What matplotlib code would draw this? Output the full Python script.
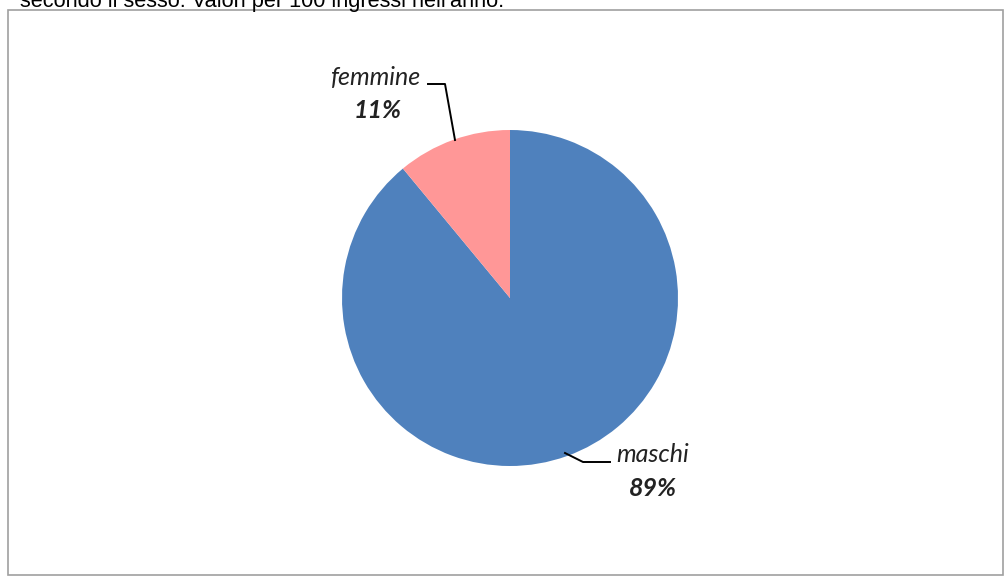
import matplotlib.pyplot as plt
from matplotlib.patches import Rectangle

# Data
labels = ['maschi', 'femmine']
values = [89, 11]
colors = ['#4F81BD', '#FF9797']
title = "secondo il sesso. Valori per 100 ingressi nell'anno."

W, H = 1005, 576
fig = plt.figure(figsize=(W / 100, H / 100), dpi=100)
ax = fig.add_axes([0, 0, 1, 1])

# pie
cx, cy, r = 510, H - 298, 168
ax.pie(values, colors=colors, startangle=90, counterclock=False,
       center=(cx, cy), radius=r, frame=True)
ax.set_xlim(0, W)
ax.set_ylim(0, H)
ax.set_aspect('equal')
ax.axis('off')

# chart frame
ax.add_patch(Rectangle((8, 1), 995, H - 11, fill=False, edgecolor='#a0a0a0', lw=1.2))

# cut-off title at the top
fig.text(20 / W, 1 - 7 / H, title, fontsize=15.7, family='Liberation Sans',
         va='baseline', ha='left', color='black')

font = ['Lato', 'DejaVu Sans']
pct = [f'{v}%' for v in values]

# femmine label + leader
ax.plot([428, 445, 455], [H - 84, H - 84, H - 140], color='black', lw=1.4)
ax.text(376, H - 78, labels[1], ha='center', va='center', fontsize=18,
        style='italic', family=font, color='#222222')
ax.text(378, H - 110, pct[1], ha='center', va='center', fontsize=18,
        style='italic', weight='bold', family=font, color='#222222')

# maschi label + leader
ax.plot([565, 583, 610], [H - 453, H - 462, H - 462], color='black', lw=1.4)
ax.text(653, H - 455, labels[0], ha='center', va='center', fontsize=18,
        style='italic', family=font, color='#222222')
ax.text(653, H - 488, pct[0], ha='center', va='center', fontsize=18,
        style='italic', weight='bold', family=font, color='#222222')

fig.savefig('out.png', dpi=100)
